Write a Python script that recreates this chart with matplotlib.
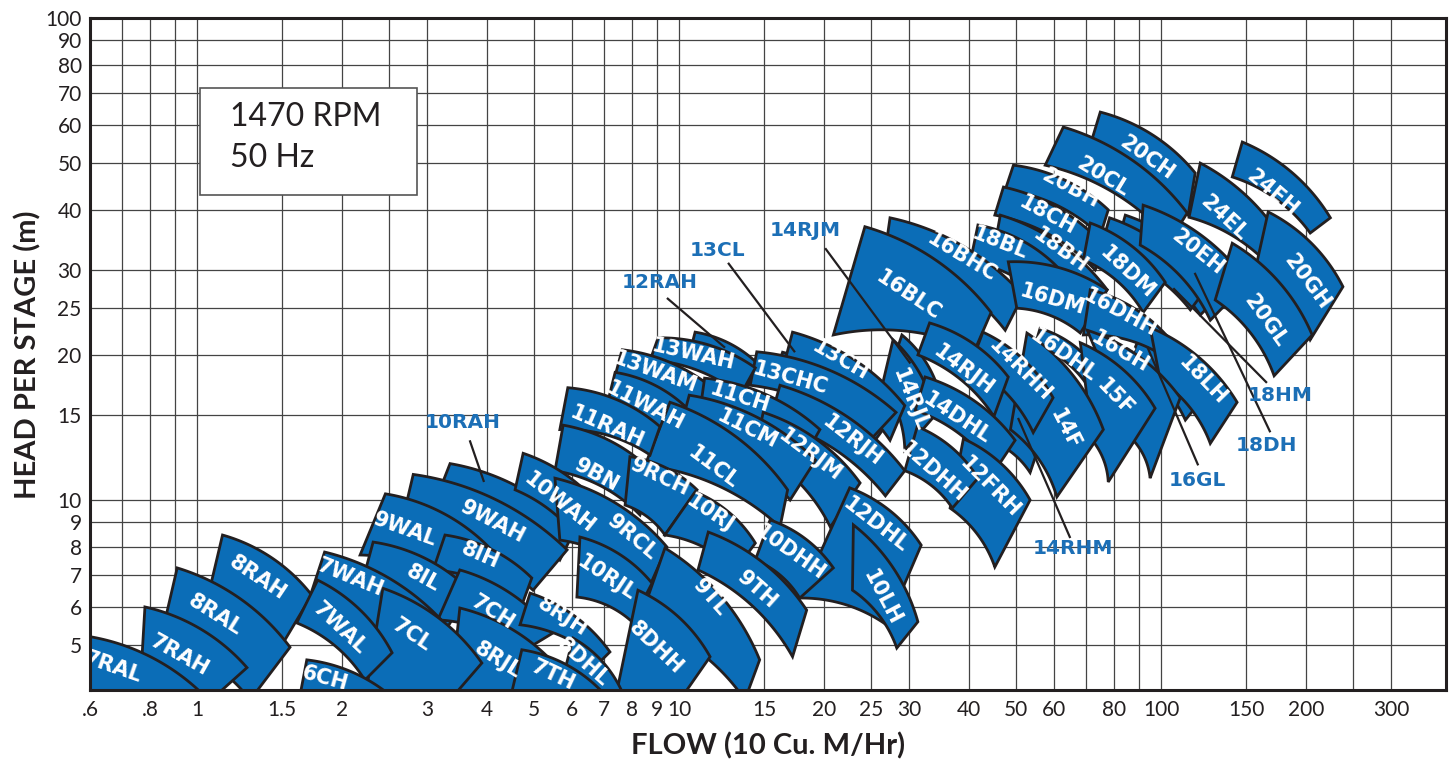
import numpy as np
import matplotlib
matplotlib.use("Agg")
import matplotlib.pyplot as plt
from matplotlib.patches import Rectangle
from matplotlib.ticker import NullFormatter

# ---------------- data ----------------
models = ["7RAL", "7RAH", "8RAL", "8RAH", "6CH", "7WAL", "7WAH", "7CL", "9WAL", "8IL",
          "8IH", "9WAH", "10RAH", "7CH", "8RJL", "8RJH", "8DHL", "7TH", "8DHH", "9TL",
          "10WAH", "10RJL", "9RCL", "9BN", "9RCH", "10RJ", "9TH", "11RAH", "11WAH", "13WAM",
          "13WAH", "12RAH", "11CH", "11CM", "11CL", "12RJM", "13CHC", "13CL", "13CH", "12RJH",
          "12DHL", "10LH", "10DHH", "12DHH", "12FRH", "14RJL", "14RJM", "16BLC", "16BHC", "14RJH",
          "14DHL", "14RHH", "14RHM", "14F", "16DHL", "15F", "16GH", "16GL", "18LH", "16DHH",
          "16DM", "18BL", "18BH", "18CH", "20BH", "20CL", "20CH", "18DM", "20EH", "18DH",
          "18HM", "24EL", "24EH", "20GH", "20GL"]

# corner points of each selection tile (flow in 10 m3/h, head per stage in m)
tl_flow = [0.59, 0.78, 0.91, 1.13, 1.69, 1.78, 1.84, 2.43, 2.46, 2.32,
           3.27, 2.81, 3.35, 3.51, 3.51, 4.91, 6.03, 4.72, 8.22, 9.35,
           4.75, 6.23, 5.53, 5.75, 7.91, 10.8, 11.5, 5.88, 7.37, 7.62,
           9.05, 10.8, 11.3, 10.5, 9.58, 14.95, 14.5, 16.4, 17.2, 16.2,
           22.6, 23.0, 15.45, 31.2, 38.9, 27.8, 29.0, 24.3, 27.4, 33.1,
           32.4, 42.7, 45.2, 52.7, 56.1, 68.0, 70.3, 90.5, 94.9, 71.3,
           48.2, 41.7, 46.4, 47.1, 49.4, 62.7, 74.8, 71.3, 91.8, 78.2,
           84.3, 120.6, 147.4, 166.8, 140.5]
tl_head = [5.22, 6.0, 7.23, 8.46, 4.66, 6.82, 7.80, 6.56, 10.3, 8.18,
           8.46, 11.3, 11.9, 7.16, 5.97, 6.41, 5.17, 4.89, 6.50, 7.95,
           12.5, 8.38, 11.1, 14.3, 12.3, 10.4, 8.58, 17.1, 18.4, 20.5,
           21.7, 22.3, 17.9, 16.5, 15.95, 15.2, 20.3, 20.26, 22.3, 17.3,
           10.6, 8.88, 9.09, 14.2, 13.4, 21.5, 22.0, 36.9, 38.5, 23.3,
           18.0, 22.3, 20.5, 22.2, 22.7, 21.2, 22.5, 22.0, 22.8, 27.3,
           31.2, 37.2, 39.0, 44.6, 49.5, 59.4, 63.8, 37.56, 40.9, 38.5,
           39.0, 50.0, 55.3, 39.6, 34.1]
tr_flow = [1.04, 1.27, 1.56, 1.73, 2.61, 2.54, 3.35, 3.90, 4.05, 3.68,
           4.95, 5.86, 6.08, 5.48, 5.66, 7.19, 7.62, 6.86, 11.6, 14.7,
           7.13, 8.79, 9.44, 8.92, 10.9, 14.4, 18.4, 9.13, 10.5, 12.2,
           14.4, 14.7, 19.6, 19.2, 16.8, 23.75, 28.2, 27.4, 29.4, 29.4,
           31.8, 31.3, 20.9, 41.7, 53.5, 34.0, 34.8, 44.4, 51.7, 48.2,
           49.8, 59.7, 59.6, 75.9, 72.9, 97.2, 109.6, 123.5, 143.8, 104.5,
           77.3, 61.8, 77.3, 76.6, 77.7, 113.3, 117.7, 102.0, 151.0, 123.5,
           135.9, 187.1, 224.5, 238.4, 205.8]
tr_head = [3.91, 4.49, 4.95, 6.35, 3.81, 4.82, 5.38, 4.59, 7.95, 6.50,
           6.89, 7.88, 8.67, 5.30, 4.44, 4.84, 4.00, 4.04, 4.73, 4.66,
           9.22, 6.72, 7.99, 11.3, 10.5, 8.14, 5.91, 14.2, 15.35, 16.5,
           18.8, 19.0, 14.0, 12.1, 10.5, 10.85, 15.2, 14.65, 15.7, 11.5,
           8.06, 5.59, 7.23, 11.1, 10.0, 15.0, 16.5, 24.5, 26.6, 18.0,
           13.3, 16.3, 15.7, 14.0, 18.9, 15.5, 16.3, 16.5, 15.95, 21.5,
           27.3, 30.0, 27.3, 33.5, 40.0, 39.4, 47.7, 28.3, 28.3, 27.3,
           27.3, 31.8, 38.5, 27.7, 22.0]
br_flow = [0.94, 1.07, 1.29, 1.50, 2.40, 2.23, 2.90, 3.35, 3.51, 3.19,
           4.72, 4.98, 5.66, 4.72, 5.27, 6.86, 7.38, 6.54, 10.05, 13.7,
           6.47, 7.99, 8.71, 8.30, 9.35, 13.1, 17.2, 8.71, 9.13, 11.06,
           13.4, 13.7, 17.8, 17.0, 16.2, 20.6, 24.9, 25.5, 27.4, 26.8,
           27.0, 28.3, 17.8, 36.9, 45.2, 29.4, 32.4, 41.1, 47.5, 45.0,
           45.2, 54.3, 53.5, 60.8, 70.3, 77.7, 94.9, 112.3, 126.5, 102.0,
           68.0, 57.5, 71.3, 73.0, 74.8, 104.5, 113.8, 91.8, 126.5, 115.0,
           120.6, 174.4, 203.9, 203.9, 171.6]
br_head = [3.26, 3.85, 3.85, 5.0, 3.34, 4.23, 4.23, 3.85, 6.51, 5.12,
           6.05, 6.50, 7.51, 4.84, 3.85, 4.62, 3.67, 3.50, 3.85, 3.85,
           7.77, 5.59, 6.66, 9.31, 8.46, 7.16, 4.73, 12.4, 13.3, 14.65,
           16.5, 16.9, 11.8, 10.0, 8.79, 8.79, 13.3, 13.3, 13.3, 10.2,
           5.5, 4.93, 6.26, 9.62, 7.26, 12.7, 14.65, 20.5, 22.5, 14.9,
           11.5, 13.8, 11.4, 10.15, 17.3, 10.9, 11.1, 14.65, 13.1, 19.8,
           22.2, 26.0, 24.2, 30.0, 35.4, 34.6, 39.0, 24.5, 23.6, 24.8,
           24.2, 29.3, 35.8, 21.5, 18.1]
bl_flow = [0.57, 0.76, 0.84, 1.05, 1.60, 1.61, 1.68, 2.23, 2.18, 2.18,
           3.09, 2.64, 3.19, 3.16, 3.35, 4.68, 5.66, 4.46, 7.37, 8.30,
           4.57, 6.14, 5.66, 5.53, 7.73, 9.35, 10.95, 5.66, 7.13, 7.37,
           8.71, 10.5, 11.06, 10.05, 8.50, 14.4, 14.05, 15.8, 16.6, 15.45,
           17.8, 22.9, 14.4, 29.4, 36.5, 26.4, 27.4, 20.9, 26.8, 31.3,
           30.9, 40.2, 44.2, 48.7, 54.8, 72.0, 87.6, 86.3, 99.6, 69.0,
           50.2, 40.2, 45.2, 45.2, 47.5, 57.5, 71.3, 69.0, 90.5, 74.8,
           80.4, 114.3, 140.5, 156.8, 129.5]
bl_head = [3.50, 3.85, 5.12, 6.2, 3.50, 5.56, 5.91, 3.85, 7.69, 6.50,
           7.16, 8.67, 10.5, 5.64, 3.85, 5.51, 4.04, 3.85, 3.85, 5.64,
           10.5, 6.29, 8.26, 11.5, 9.76, 8.46, 7.16, 14.0, 16.1, 18.1,
           19.5, 20.0, 15.35, 14.0, 11.8, 12.7, 17.3, 18.1, 19.5, 14.65,
           6.26, 6.50, 7.51, 11.5, 9.62, 17.3, 18.6, 22.0, 33.0, 20.0,
           15.35, 19.0, 13.3, 14.0, 21.0, 13.3, 13.3, 19.5, 17.7, 22.0,
           25.0, 31.2, 33.8, 39.0, 44.0, 49.5, 54.5, 31.5, 33.8, 33.0,
           33.0, 38.6, 46.8, 30.0, 26.0]
# where the white model name sits inside its tile (nan = name is a call-out)
label_flow = [0.669, 0.922, 1.09, 1.338, 1.844, 1.98, 2.077, 2.79, 2.70, 2.94,
              3.865, 4.11, np.nan, 4.11, 4.21, 5.72, 6.32, 5.48, 8.95, 11.6,
              5.66, 7.09, 7.99, 6.76, 9.13, 11.6, 14.5, 7.09, 8.50, 8.92,
              10.69, np.nan, 13.39, 13.9, 11.78, 18.7, 17.0, np.nan, 21.6, 22.9,
              25.6, 26.4, 17.0, 33.7, 44.2, 30.2, np.nan, 29.9, 38.6, 38.9,
              37.8, 51.0, np.nan, 63.3, 62.7, 80.4, 82.3, np.nan, 121.8, 82.3,
              59.5, 46.4, 61.8, 58.1, 64.8, 75.9, 93.6, 85.1, 119.4, np.nan,
              np.nan, 135.3, 170.3, 200.9, 164.5]
label_head = [4.49, 4.77, 5.78, 6.89, 4.27, 5.43, 6.89, 5.24, 8.67, 6.89,
              7.66, 9.0, np.nan, 5.85, 4.66, 5.72, 4.62, 4.33, 4.93, 6.26,
              9.86, 6.89, 8.38, 11.27, 11.16, 9.40, 6.50, 14.17, 15.7, 18.4,
              20.0, np.nan, 16.3, 14.0, 11.7, 12.4, 17.87, np.nan, 19.5, 13.3,
              8.88, 6.26, 7.77, 11.4, 10.64, 16.1, np.nan, 26.6, 31.96, 18.6,
              14.8, 18.6, np.nan, 14.0, 20.0, 16.3, 20.3, np.nan, 17.7, 24.5,
              26.0, 34.1, 33.0, 39.0, 44.4, 46.8, 51.2, 29.6, 32.7, np.nan,
              np.nan, 38.5, 43.3, 28.3, 23.6]

# call-out names with leader lines
callouts = ["10RAH", "12RAH", "13CL", "14RJM", "14RHM", "16GL", "18DH", "18HM"]
callout_text_flow = [3.55, 9.13, 12.0, 18.26, 65.7, 118.9, 165.8, 176.7]
callout_text_head = [14.5, 28.2, 33.0, 36.3, 7.95, 11.0, 13.0, 16.5]
leader_flow0 = [3.68, 9.44, 12.64, 20.1, 50.5, 93.6, 117.4, 106.0]
leader_head0 = [13.3, 26.25, 31.05, 33.3, 14.8, 20.8, 29.6, 27.5]
leader_flow1 = [3.94, 12.46, 17.4, 30.2, 64.8, 119.4, 168.5, 165.8]
leader_head1 = [10.9, 20.7, 20.26, 19.2, 8.34, 11.8, 13.82, 17.5]

xtick_vals = [0.6, 0.8, 1, 1.5, 2, 3, 4, 5, 6, 7, 8, 9, 10, 15, 20, 25, 30, 40, 50, 60,
              80, 100, 150, 200, 300]
xtick_text = [".6", ".8", "1", "1.5", "2", "3", "4", "5", "6", "7", "8", "9", "10", "15",
              "20", "25", "30", "40", "50", "60", "80", "100", "150", "200", "300"]
xgrid_extra = [0.7, 0.9, 2.5, 70, 90, 250]
ytick_vals = [5, 6, 7, 8, 9, 10, 15, 20, 25, 30, 40, 50, 60, 70, 80, 90, 100]

# ---------------- style ----------------
BLUE = "#0b6db7"
EDGE = "#231f20"
ANN = "#1c6fb6"
K = 0.08  # relative bulge of the curved tile edges

fig = plt.figure(figsize=(14.56, 7.63), dpi=100)
ax = fig.add_axes([90 / 1456, 73 / 763, 1356 / 1456, 672 / 763])
ax.set_xscale("log")
ax.set_yscale("log")
ax.set_xlim(0.6, 390)
ax.set_ylim(4.035, 100)

ax.set_xticks(xtick_vals)
ax.set_xticklabels(xtick_text)
ax.set_xticks(xgrid_extra, minor=True)
ax.xaxis.set_minor_formatter(NullFormatter())
ax.set_yticks(ytick_vals)
ax.set_yticklabels([str(v) for v in ytick_vals])
ax.set_yticks([], minor=True)
ax.tick_params(which="both", length=0)
ax.tick_params(axis="x", pad=7)
ax.tick_params(axis="y", pad=6)
for lab in ax.get_xticklabels():
    lab.set_fontfamily(["Lato"])
    lab.set_fontsize(15)
    lab.set_color("#231f20")
for lab in ax.get_yticklabels():
    lab.set_fontfamily(["Lato"])
    lab.set_fontsize(15)
    lab.set_color("#231f20")
ax.grid(which="both", color="#444444", lw=0.9)
ax.set_axisbelow(True)
for sp in ax.spines.values():
    sp.set_linewidth(2.2)
    sp.set_color(EDGE)
    sp.set_zorder(300)


def arc(p0, p1, k=K, n=40):
    p0 = np.asarray(p0, float)
    p1 = np.asarray(p1, float)
    d = p1 - p0
    c = np.hypot(*d)
    s = k * c
    nrm = np.array([-d[1], d[0]]) / c
    R = (c * c / 4 + s * s) / (2 * s)
    M = (p0 + p1) / 2
    C = M - (R - s) * nrm
    a0 = np.arctan2(*(p0 - C)[::-1])
    a1 = np.arctan2(*(p1 - C)[::-1])
    while a1 > a0:
        a1 -= 2 * np.pi
    a = np.linspace(a0, a1, n)
    return np.column_stack([C[0] + R * np.cos(a), C[1] + R * np.sin(a)]), C, a0, a1


def lg(q, h):
    return np.array([np.log10(q), np.log10(h)])


n_tiles = len(models)
keys = []
for i in range(n_tiles):
    key = np.log10(tl_head[i]) + 0.3 * np.log10(tl_flow[i])
    if models[i] in callouts:
        key += 10  # tiles named by call-outs sit behind their neighbours
    keys.append(key)
order = np.argsort(keys)[::-1]

for z, i in enumerate(order):
    TL = lg(tl_flow[i], tl_head[i])
    TR = lg(tr_flow[i], tr_head[i])
    BR = lg(br_flow[i], br_head[i])
    BL = lg(bl_flow[i], bl_head[i])
    top, _, _, _ = arc(TL, TR)
    bot, _, _, _ = arc(BL, BR)
    pts = np.vstack([top, bot[::-1]])
    ax.fill(10 ** pts[:, 0], 10 ** pts[:, 1], facecolor=BLUE, edgecolor=EDGE,
            lw=2.0, zorder=3 + z * 0.01, joinstyle="miter")

# model names
for i in range(n_tiles):
    if np.isnan(label_flow[i]):
        continue
    TL = lg(tl_flow[i], tl_head[i])
    TR = lg(tr_flow[i], tr_head[i])
    L = lg(label_flow[i], label_head[i])
    d = TR - TL
    t = np.clip(np.dot(L - TL, d) / np.dot(d, d), 0.05, 0.95)
    _, C, a0, a1 = arc(TL, TR)
    a = a0 + t * (a1 - a0)
    rot = np.degrees(a - np.pi / 2)
    while rot <= -90:
        rot += 180
    while rot > 90:
        rot -= 180
    ax.text(label_flow[i], label_head[i], models[i], rotation=rot, rotation_mode="anchor",
            ha="center", va="center", color="white", fontsize=15, fontweight="bold",
            family=["DejaVu Sans"], zorder=100)

# call-outs
for j in range(len(callouts)):
    ax.plot([leader_flow0[j], leader_flow1[j]], [leader_head0[j], leader_head1[j]],
            color=EDGE, lw=1.6, zorder=110, solid_capstyle="butt")
    ax.text(callout_text_flow[j], callout_text_head[j], callouts[j], ha="center",
            va="center", color=ANN, fontsize=14.5, fontweight="bold",
            family=["DejaVu Sans"], zorder=120)

# speed box
ax.add_patch(Rectangle((0.0811, 0.7366), 0.1601, 0.1592, transform=ax.transAxes,
                       facecolor="white", edgecolor="#555555", lw=1.2, zorder=150))
ax.text(0.1032, 0.8527, "1470 RPM", transform=ax.transAxes, ha="left", va="center",
        fontsize=23, family=["Lato"], color="#231f20", zorder=151)
ax.text(0.1032, 0.7917, "50 Hz", transform=ax.transAxes, ha="left", va="center",
        fontsize=23, family=["Lato"], color="#231f20", zorder=151)

fig.text(768 / 1456, 1 - 746 / 763, "FLOW (10 Cu. M/Hr)", ha="center", va="center",
         fontsize=21, fontweight="bold", family=["Lato", "DejaVu Sans"],
         color="#231f20")
fig.text(28 / 1456, 1 - 355 / 763, "HEAD PER STAGE (m)", ha="center", va="center",
         rotation=90, fontsize=21, fontweight="bold",
         family=["Lato", "DejaVu Sans"], color="#231f20")

fig.savefig("out.png", dpi=100)
